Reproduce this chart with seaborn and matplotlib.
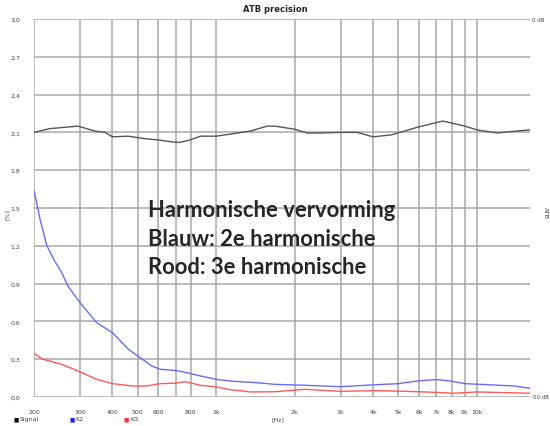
import numpy as np
import pandas as pd
import matplotlib
matplotlib.use("Agg")
import matplotlib.pyplot as plt
import seaborn as sns

# data (Hz, %)
signal_freq = [200, 230, 295, 343, 375, 400, 460, 533, 600, 677, 720, 795, 870, 1000,
               1160, 1350, 1570, 1680, 2000, 2240, 2460, 3000, 3480, 4000, 4700, 5900,
               7400, 9000, 10000, 12000, 14000, 16000]
signal_val = [2.10, 2.13, 2.15, 2.11, 2.10, 2.065, 2.07, 2.05, 2.04, 2.025, 2.02, 2.04,
              2.07, 2.07, 2.09, 2.11, 2.15, 2.15, 2.125, 2.095, 2.095, 2.10, 2.10, 2.065,
              2.08, 2.14, 2.19, 2.15, 2.12, 2.095, 2.11, 2.12]

k2_freq = [200, 211, 224, 240, 255, 270, 300, 348, 400, 460, 500, 566, 610, 700, 745,
           870, 1000, 1160, 1470, 1680, 2000, 3000, 4000, 5000, 5900, 7000, 7900, 9000,
           11400, 14000, 16000]
k2_val = [1.64, 1.41, 1.20, 1.08, 0.99, 0.88, 0.75, 0.59, 0.51, 0.38, 0.326, 0.246, 0.22,
          0.21, 0.20, 0.167, 0.14, 0.125, 0.112, 0.10, 0.096, 0.082, 0.096, 0.106, 0.127,
          0.138, 0.127, 0.106, 0.096, 0.087, 0.069]

k3_freq = [200, 216, 255, 300, 348, 400, 480, 540, 610, 700, 760, 870, 1000, 1130, 1240,
           1350, 1680, 2200, 3000, 4100, 5400, 7300, 8200, 10000, 16000]
k3_val = [0.347, 0.30, 0.26, 0.20, 0.14, 0.106, 0.087, 0.087, 0.106, 0.11, 0.122, 0.093,
          0.08, 0.058, 0.05, 0.04, 0.042, 0.061, 0.045, 0.05, 0.045, 0.035, 0.03, 0.04, 0.03]

xtick_vals = [200, 300, 400, 500, 600, 800, 1000, 2000, 3000, 4000, 5000, 6000, 7000,
              8000, 9000, 10000]
xtick_labels = ["200", "300", "400", "500", "600", "800", "1k", "2k", "3k", "4k", "5k",
                "6k", "7k", "8k", "9k", "10k"]
ytick_vals = [0.0, 0.3, 0.6, 0.9, 1.2, 1.5, 1.8, 2.1, 2.4, 2.7, 3.0]

sns.set_style("white")
plt.rcParams['font.family'] = ['DejaVu Sans']

fig = plt.figure(figsize=(5.5, 4.27), dpi=100)
ax = fig.add_axes([34/550, 1-398/427, 496/550, 378/427])

sns.lineplot(x=signal_freq, y=signal_val, ax=ax, color="#555555", lw=1.0)
sns.lineplot(x=k2_freq, y=k2_val, ax=ax, color="#6a6aff", lw=1.0)
sns.lineplot(x=k3_freq, y=k3_val, ax=ax, color="#ff5a5a", lw=1.0)

ax.set_xscale("log")
ax.set_xlim(200, 16000)
ax.set_ylim(0, 3.0)
ax.set_xticks(xtick_vals)
ax.set_xticklabels(xtick_labels)
ax.set_xticks([700], minor=True)
ax.set_xticklabels([""], minor=True)
ax.set_yticks(ytick_vals)
ax.set_yticklabels([f"{v:.1f}".replace(".", ",") for v in ytick_vals])
ax.tick_params(axis="both", which="both", length=0, labelsize=4.5, colors="#444444")
ax.tick_params(axis="x", pad=9)
ax.tick_params(axis="y", pad=10)
ax.grid(True, which="both", color="#a8a8a8", lw=1.1)
for s in ax.spines.values():
    s.set_visible(False)

small = dict(fontsize=4.5, color="#444444")
fig.text(0.5, 1-10/427, "ATB precision", ha="center", va="center", fontsize=6,
         fontweight="bold")
fig.text(7/550, 1-215/427, "[%]", rotation=90, ha="center", va="center", **small)
fig.text(545/550, 1-213/427, "ATB", rotation=270, ha="center", va="center", **small)
fig.text(532/550, 1-20/427, "0 dB", ha="left", va="center", fontsize=4, color="#444444")
fig.text(531/550, 1-398/427, "-50 dB", ha="left", va="center", fontsize=4, color="#444444")
fig.text(272/550, 1-420/427, "[Hz]", ha="left", va="center", **small)

for xpos, col, lab in [(14, "black", "Signal"), (69, "#2020ff", "K2"), (124, "#ff3030", "K3")]:
    fig.text(xpos/550, 1-420/427, "\u25A0", color=col, ha="left", va="center", fontsize=4)
    fig.text((xpos+6)/550, 1-420/427, lab, ha="left", va="center", **small)

fig.text(148/550, 1-200/427,
         "Harmonische vervorming\nBlauw: 2e harmonische\nRood: 3e harmonische",
         ha="left", va="top", fontsize=15.8, fontweight="bold", family=["Lato", "DejaVu Sans"],
         linespacing=1.45)

fig.savefig("out.png", dpi=100)
